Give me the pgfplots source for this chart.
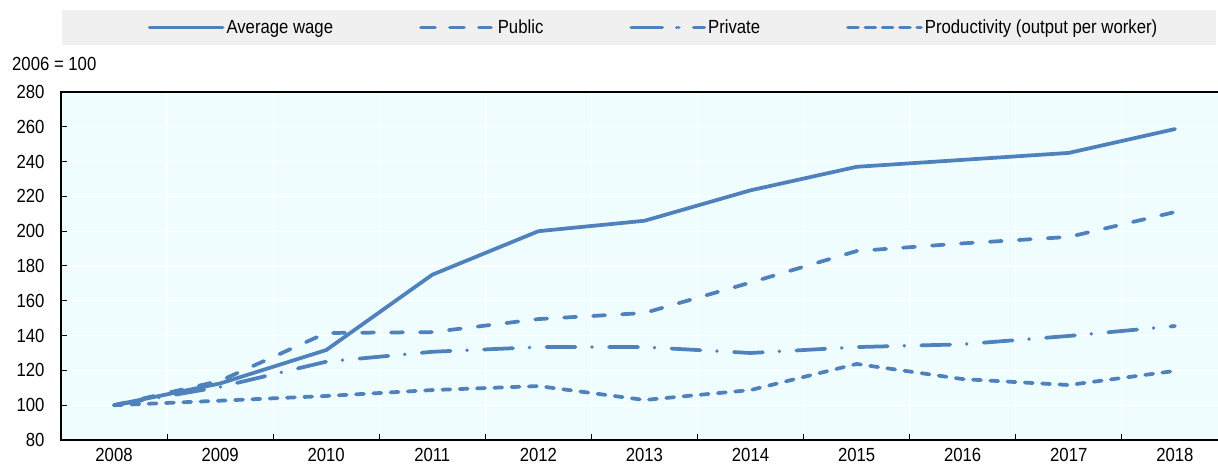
\documentclass[border=0pt]{standalone}
\usepackage{fontspec}
\setmainfont[FakeStretch=0.88]{Liberation Sans}
\usepackage{pgfplots}
\pgfplotsset{compat=1.18}
\definecolor{oecdblue}{RGB}{79,129,189}
\definecolor{plotbg}{RGB}{240,253,255}
\definecolor{legbg}{RGB}{240,240,240}
\begin{document}
\begin{tikzpicture}[font=\fontsize{19}{22}\selectfont]
\fill[legbg] (1pt,395pt) rectangle (1155pt,430pt);
\begin{axis}[
  name=ax, at={(0pt,0pt)}, anchor=south west,
  scale only axis, width=1167pt, height=348pt,
  xmin=2007.5, xmax=2018.5, ymin=80, ymax=280,
  xtick={2008,2009,...,2018},
  minor xtick={2008.5,2009.5,...,2017.5},
  ytick={80,100,...,280},
  tick pos=left, tick align=inside,
  major x tick style={draw=none},
  minor tick length=6pt, major tick length=6pt,
  tick style={black, line width=1pt},
  xminorgrids=true, ymajorgrids=true,
  grid style={white, line width=1.2pt},
  axis line style={black, line width=1.2pt},
  axis background/.style={fill=plotbg},
  /pgf/number format/assume math mode=true,
  /pgf/number format/1000 sep={},
  xticklabel style={yshift=-5pt},
  yticklabel style={xshift=-13pt},
  legend columns=4,
  legend cell align=left,
  legend style={at={(0.5077,1.1853)}, anchor=center, draw=none, fill=none,
    /tikz/every even column/.append style={column sep=84pt}},
  legend image code/.code={\draw[#1] (2pt,0pt) -- (69pt,0pt); \path (0pt,0pt) -- (73pt,0pt);},
]
\addplot[oecdblue, line width=3.75pt, line cap=round] coordinates {
(2008,100) (2009,112.5) (2010,131.7) (2011,175) (2012,200) (2013,206)
(2014,223.5) (2015,237) (2016,241) (2017,245) (2018,258.7)};
\addlegendentry{Average wage}
\addplot[oecdblue, line width=3.75pt, line cap=round, dash pattern=on 12pt off 17pt] coordinates {
(2008,100) (2009,114) (2010,141.5) (2011,142) (2012,149.5) (2013,153)
(2014,170.5) (2015,188.6) (2016,193) (2017,196.7) (2018,211)};
\addlegendentry{Public}
\addplot[oecdblue, line width=3.75pt, line cap=round, dash pattern=on 29pt off 16.5pt on 0.01pt off 17pt] coordinates {
(2008,100) (2009,110.5) (2010,125) (2011,130.7) (2012,133.4) (2013,133.4)
(2014,130) (2015,133.4) (2016,135) (2017,139.8) (2018,145.5)};
\addlegendentry{Private}
\addplot[oecdblue, line width=3.75pt, line cap=round, dash pattern=on 8pt off 9.3pt] coordinates {
(2008,100) (2009,102.6) (2010,105.3) (2011,108.7) (2012,111) (2013,103)
(2014,108.7) (2015,123.7) (2016,115) (2017,111.6) (2018,119.7)};
\addlegendentry{Productivity (output per worker)}
\end{axis}
\node[anchor=base west, inner sep=0pt] at (-49pt,369pt) {2006 = 100};
\pgfresetboundingbox
\path (-61pt,-25pt) rectangle (1157pt,440pt);
\end{tikzpicture}
\end{document}
